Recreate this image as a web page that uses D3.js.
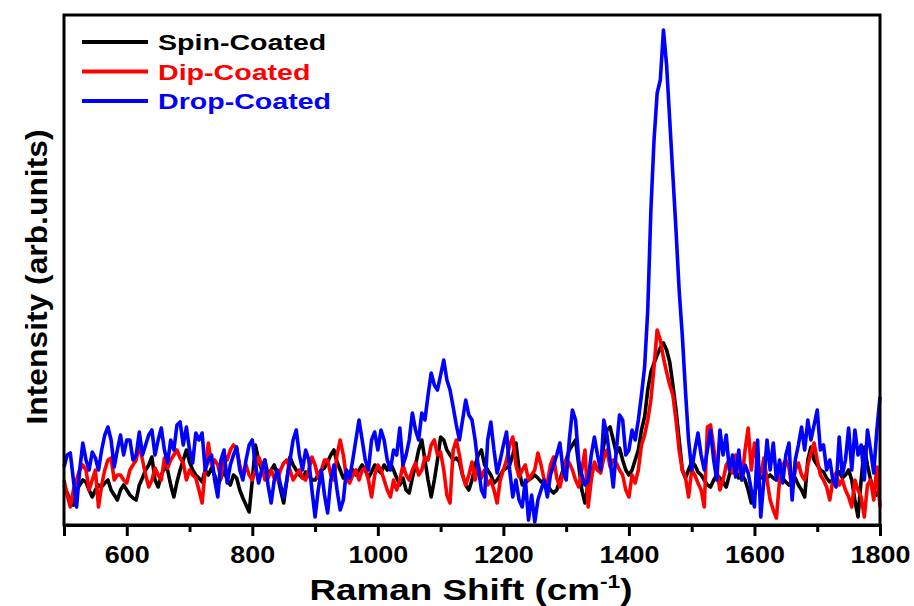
<!DOCTYPE html>
<html>
<head>
<meta charset="utf-8">
<script src="https://cdn.jsdelivr.net/npm/d3@7"></script>
<style>
  html, body { margin: 0; padding: 0; background: #fff; }
  svg { display: block; font-family: "Liberation Sans", Arial, sans-serif; }
</style>
</head>
<body>
<div id="chart"></div>
<script>
// Raman shift grid: 500 to 1800 cm-1, every 5 cm-1
var shiftStart = 500, shiftStep = 5;
var xTicks = [600, 800, 1000, 1200, 1400, 1600, 1800];
var xMinorTicks = [500, 700, 900, 1100, 1300, 1500, 1700];

var seriesNames = ['Spin-Coated', 'Dip-Coated', 'Drop-Coated'];
var seriesColors = ['#000000', '#ff0000', '#0000ff'];

// intensities (arb. units)
var spinCoated = [
  40, 32, 25, 20, 35, 40, 45, 43, 35, 28,
  35, 40, 38, 42, 45, 35, 30, 25, 35, 40,
  35, 30, 27, 25, 40, 47, 55, 60, 68, 45,
  38, 50, 57, 55, 40, 28, 43, 55, 65, 75,
  63, 55, 50, 47, 43, 55, 50, 57, 50, 40,
  47, 55, 45, 40, 50, 47, 35, 27, 20, 13,
  45, 80, 65, 55, 65, 50, 55, 60, 50, 35,
  22, 45, 68, 60, 55, 50, 47, 53, 50, 45,
  45, 50, 55, 57, 63, 70, 75, 63, 55, 47,
  50, 53, 55, 50, 55, 60, 55, 47, 53, 60,
  55, 52, 60, 55, 62, 55, 47, 40, 47, 35,
  32, 47, 60, 75, 85, 65, 45, 28, 45, 65,
  88, 85, 75, 70, 65, 67, 63, 50, 40, 35,
  45, 60, 70, 75, 60, 55, 50, 42, 45, 50,
  55, 57, 60, 70, 82, 55, 40, 42, 45, 47,
  50, 47, 43, 45, 40, 35, 32, 35, 45, 55,
  65, 75, 80, 85, 60, 35, 22, 40, 55, 60,
  55, 60, 80, 95, 98, 85, 72, 77, 65, 55,
  50, 55, 65, 75, 95, 108, 135, 153, 162, 170,
  177, 182, 175, 163, 140, 115, 85, 55, 47, 55,
  63, 60, 53, 50, 45, 40, 38, 45, 50, 47,
  43, 38, 50, 60, 55, 47, 50, 45, 35, 22,
  30, 45, 50, 45, 47, 50, 47, 45, 49, 47,
  43, 40, 45, 47, 40, 35, 28, 65, 78, 65,
  60, 55, 53, 47, 43, 45, 50, 53, 47, 50,
  55, 45, 25, 8, 45, 78, 60, 45, 35, 30,
  35
];

var dipCoated = [
  45, 30, 18, 35, 45, 55, 60, 55, 35, 45,
  55, 18, 40, 55, 65, 67, 45, 50, 50, 45,
  42, 55, 60, 65, 80, 65, 50, 38, 45, 57,
  50, 45, 67, 57, 65, 70, 75, 67, 62, 45,
  55, 50, 47, 35, 22, 55, 82, 60, 65, 60,
  47, 70, 65, 75, 80, 77, 60, 48, 60, 50,
  45, 55, 68, 60, 45, 47, 55, 47, 45, 55,
  62, 65, 55, 45, 50, 55, 47, 45, 55, 68,
  60, 47, 55, 65, 65, 50, 45, 70, 85, 70,
  47, 42, 50, 55, 45, 55, 57, 45, 28, 50,
  60, 55, 45, 35, 28, 45, 35, 45, 60, 50,
  45, 55, 62, 50, 55, 68, 65, 80, 85, 70,
  73, 55, 30, 22, 75, 85, 70, 50, 40, 50,
  63, 45, 60, 47, 55, 40, 45, 35, 22, 45,
  55, 65, 80, 88, 60, 48, 55, 60, 45, 50,
  55, 72, 60, 45, 42, 60, 68, 47, 38, 52,
  65, 62, 55, 45, 38, 55, 75, 18, 45, 63,
  55, 52, 67, 75, 58, 65, 62, 55, 50, 35,
  28, 50, 42, 55, 80, 90, 105, 125, 158, 195,
  185, 167, 153, 140, 130, 105, 75, 55, 48, 28,
  55, 50, 42, 35, 18, 98, 100, 78, 55, 35,
  45, 60, 65, 52, 70, 60, 45, 75, 97, 55,
  82, 60, 50, 67, 45, 25, 15, 7, 45, 60,
  65, 57, 35, 55, 62, 50, 45, 60, 72, 82,
  65, 50, 45, 38, 25, 45, 52, 40, 45, 35,
  28, 18, 45, 35, 28, 8, 40, 45, 25, 58,
  18
];

var dropCoated = [
  58, 70, 72, 45, 18, 55, 82, 65, 55, 73,
  67, 55, 75, 90, 98, 85, 58, 75, 90, 70,
  85, 85, 65, 70, 93, 70, 80, 90, 95, 70,
  85, 97, 75, 62, 85, 75, 100, 103, 80, 98,
  75, 62, 92, 85, 92, 55, 65, 70, 45, 28,
  65, 75, 42, 60, 70, 78, 55, 45, 65, 80,
  85, 60, 42, 55, 65, 40, 22, 45, 55, 40,
  28, 45, 65, 85, 95, 70, 55, 75, 65, 35,
  8, 35, 55, 30, 12, 45, 60, 35, 15, 25,
  55, 47, 65, 85, 105, 85, 65, 55, 85, 93,
  75, 95, 85, 65, 55, 75, 70, 97, 60, 70,
  85, 112, 95, 85, 112, 105, 130, 152, 140, 135,
  150, 165, 145, 135, 118, 100, 85, 105, 125, 110,
  105, 85, 58, 35, 28, 85, 103, 75, 52, 65,
  80, 93, 55, 28, 45, 25, 18, 45, 5, 30,
  3, 25, 35, 45, 28, 50, 60, 70, 82, 55,
  45, 85, 115, 105, 65, 50, 40, 45, 70, 88,
  70, 55, 105, 90, 65, 38, 75, 110, 105, 70,
  75, 95, 85, 105, 130, 158, 215, 315, 385, 432,
  445, 495, 460, 405, 350, 295, 235, 190, 135, 85,
  55, 75, 92, 70, 55, 75, 95, 65, 45, 95,
  70, 90, 55, 70, 48, 75, 45, 60, 52, 35,
  18, 85, 8, 45, 85, 55, 82, 45, 65, 42,
  70, 82, 25, 65, 80, 98, 75, 105, 85, 100,
  115, 75, 80, 55, 65, 45, 38, 88, 50, 65,
  97, 55, 95, 70, 80, 45, 95, 75, 52, 95,
  128
];

var seriesValues = [spinCoated, dipCoated, dropCoated];

var width = 914, height = 606;
var margin = { top: 15, right: 34, bottom: 81, left: 64 };
var iw = width - margin.left - margin.right;
var ih = height - margin.top - margin.bottom;

var x = d3.scaleLinear().domain([500, 1800]).range([0, iw]);
var y = d3.scaleLinear().domain([0, 510]).range([ih, 0]);

var svg = d3.select('#chart').append('svg').attr('width', width).attr('height', height);
var g = svg.append('g').attr('transform', 'translate(' + margin.left + ',' + margin.top + ')');

g.append('defs').append('clipPath').attr('id', 'plotclip')
  .append('rect').attr('x', -2).attr('width', iw + 4).attr('height', ih);

var line = d3.line()
  .x(function (d, i) { return x(shiftStart + i * shiftStep); })
  .y(function (d) { return y(d); });

var plot = g.append('g').attr('clip-path', 'url(#plotclip)');
seriesValues.forEach(function (vals, k) {
  plot.append('path').datum(vals).attr('d', line)
    .attr('fill', 'none').attr('stroke', seriesColors[k])
    .attr('stroke-width', 3.6).attr('stroke-linejoin', 'round');
});

// frame
g.append('rect').attr('width', iw).attr('height', ih)
  .attr('fill', 'none').attr('stroke', '#000').attr('stroke-width', 3);

// x axis: major + minor ticks, outward; glyphs widened like the source image
var xAxis = g.append('g').attr('transform', 'translate(0,' + ih + ')')
  .call(d3.axisBottom(x).tickValues(xTicks).tickSize(11).tickPadding(11).tickFormat(d3.format('d')));
xAxis.select('.domain').attr('stroke-width', 3);
xAxis.selectAll('.tick line').attr('stroke-width', 3);
xAxis.selectAll('text').attr('font-size', 23).attr('font-weight', 'bold').attr('fill', '#000')
  .attr('font-family', '"Liberation Sans", Arial, sans-serif')
  .attr('transform', 'scale(1.17,1)');

g.append('g').attr('transform', 'translate(0,' + ih + ')')
  .call(d3.axisBottom(x).tickValues(xMinorTicks).tickSize(7).tickFormat(''))
  .call(function (s) { s.select('.domain').remove(); s.selectAll('.tick line').attr('stroke-width', 3); });

// axis titles
var xt = svg.append('text').attr('transform', 'translate(471,600) scale(1.27,1)').attr('text-anchor', 'middle')
  .attr('font-size', 29).attr('font-weight', 'bold').attr('fill', '#000');
xt.append('tspan').text('Raman Shift (cm');
xt.append('tspan').attr('font-size', 18).attr('dy', -12).text('-1');
xt.append('tspan').attr('dy', 12).text(')');

svg.append('text').attr('transform', 'translate(47,277) rotate(-90)').attr('text-anchor', 'middle')
  .attr('font-size', 30).attr('font-weight', 'bold').attr('fill', '#000')
  .attr('textLength', 295).attr('lengthAdjust', 'spacingAndGlyphs')
  .text('Intensity (arb.units)');

// legend
var legend = svg.append('g');
seriesNames.forEach(function (name, k) {
  var ly = 42 + k * 29.5;
  legend.append('line').attr('x1', 82).attr('x2', 148).attr('y1', ly).attr('y2', ly)
    .attr('stroke', seriesColors[k]).attr('stroke-width', 4);
  legend.append('text').attr('transform', 'translate(158,' + (ly + 8) + ') scale(1.3,1)')
    .attr('font-size', 22).attr('font-weight', 'bold').attr('fill', seriesColors[k])
    .text(name);
});
</script>
</body>
</html>
